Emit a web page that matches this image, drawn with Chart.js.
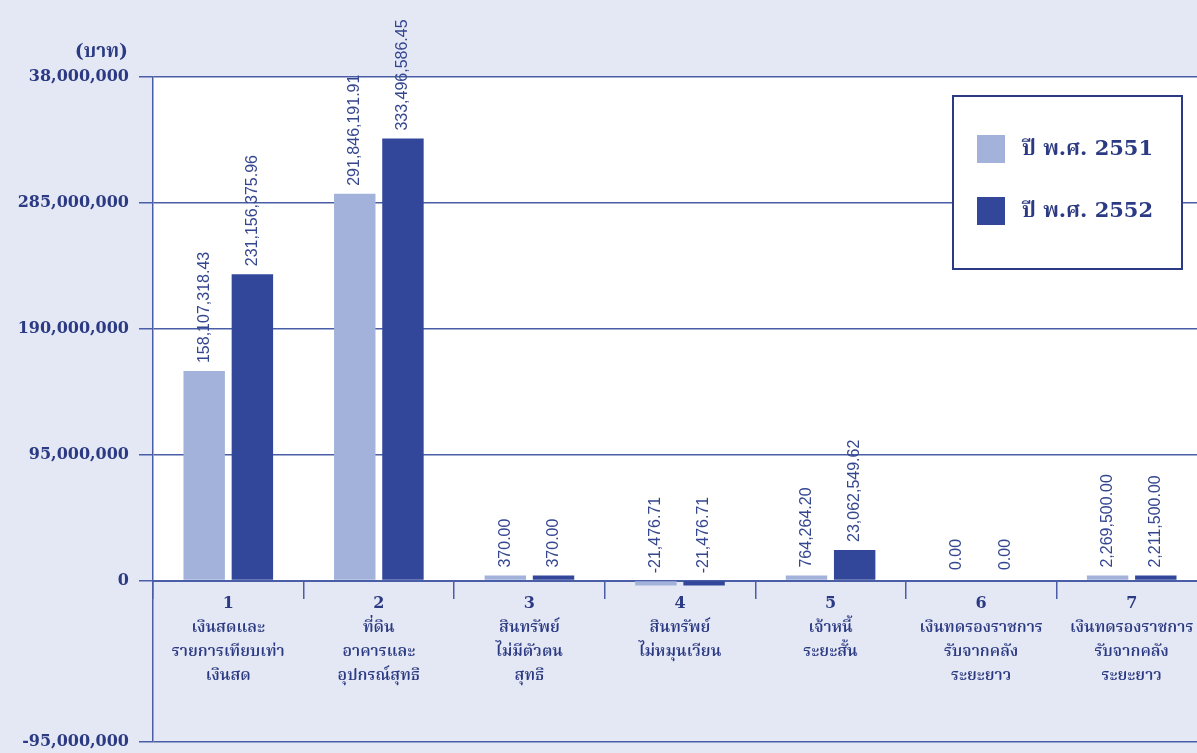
<!DOCTYPE html>
<html>
<head>
<meta charset="utf-8">
<script src="https://cdn.jsdelivr.net/npm/chart.js@4.4.1/dist/chart.umd.min.js"></script>
<style>
  html, body { margin: 0; padding: 0; overflow: hidden; background: #e4e8f5; }
  #wrap { width: 1197px; height: 753px; overflow: hidden; }
</style>
</head>
<body>
<div id="wrap"><canvas id="assetChart" width="1207" height="761"></canvas></div>
<script>
// categories (number + thai caption lines)
const categories = [
    ['1', 'เงินสดและ', 'รายการเทียบเท่า', 'เงินสด'],
    ['2', 'ที่ดิน', 'อาคารและ', 'อุปกรณ์สุทธิ'],
    ['3', 'สินทรัพย์', 'ไม่มีตัวตน', 'สุทธิ'],
    ['4', 'สินทรัพย์', 'ไม่หมุนเวียน'],
    ['5', 'เจ้าหนี้', 'ระยะสั้น'],
    ['6', 'เงินทดรองราชการ', 'รับจากคลัง', 'ระยะยาว'],
    ['7', 'เงินทดรองราชการ', 'รับจากคลัง', 'ระยะยาว']
];
const seriesNames = ['ปี พ.ศ. 2551', 'ปี พ.ศ. 2552'];
const values2551 = [158107318.43, 291846191.91, 370.00, -21476.71, 764264.20, 0.00, 2269500.00];
const values2552 = [231156375.96, 333496586.45, 370.00, -21476.71, 23062549.62, 0.00, 2211500.00];

// y axis ticks as printed on the original (bottom one is squeezed, top one misprinted)
const tickValues = [-121400000, 0, 95000000, 190000000, 285000000, 380000000];
const tickLabels = ['-95,000,000', '0', '95,000,000', '190,000,000', '285,000,000', '38,000,000'];
const unitLabel = '(บาท)';

const navy = '#2b3a82';
const lineBlue = '#4a5ea8';
const barColors = ['#a2b2db', '#33479a'];
const thaiFont = '"DejaVu Serif", "Noto Serif Thai", "Noto Sans Thai", serif';

function fmt(v) {
    return v.toLocaleString('en-US', { minimumFractionDigits: 2, maximumFractionDigits: 2 });
}

const paperBg = {
    id: 'paperBg',
    beforeDraw(chart) {
        const { ctx, chartArea, scales } = chart;
        const zeroY = scales.y.getPixelForValue(0);
        ctx.save();
        ctx.fillStyle = '#ffffff';
        ctx.fillRect(chartArea.left, chartArea.top, chartArea.right - chartArea.left, zeroY - chartArea.top);
        ctx.restore();
    }
};

const valueLabels = {
    id: 'valueLabels',
    afterDatasetsDraw(chart) {
        const ctx = chart.ctx;
        ctx.save();
        ctx.font = '16px "Liberation Sans", Arial, sans-serif';
        ctx.fillStyle = '#34468f';
        ctx.textAlign = 'left';
        ctx.textBaseline = 'middle';
        chart.data.datasets.forEach((ds, i) => {
            chart.getDatasetMeta(i).data.forEach((bar, j) => {
                const top = Math.min(bar.y, bar.base) - 8;
                ctx.save();
                ctx.translate(bar.x, top);
                ctx.rotate(-Math.PI / 2);
                ctx.fillText(fmt(ds.data[j]), 0, 0);
                ctx.restore();
            });
        });
        ctx.restore();
    }
};

const boxLegend = {
    id: 'boxLegend',
    afterDraw(chart) {
        const { ctx, chartArea } = chart;
        const left = chartArea.right - 254;
        const top = chartArea.top + 19;
        ctx.save();
        ctx.fillStyle = '#ffffff';
        ctx.fillRect(left, top, 229, 173);
        ctx.strokeStyle = navy;
        ctx.lineWidth = 2;
        ctx.strokeRect(left, top, 229, 173);
        ctx.font = 'bold 21px ' + thaiFont;
        ctx.textBaseline = 'middle';
        ctx.textAlign = 'left';
        chart.data.datasets.forEach((ds, i) => {
            const y = top + 53 + i * 62;
            ctx.fillStyle = ds.backgroundColor.base;
            ctx.fillRect(left + 24, y - 14, 28, 28);
            ctx.fillStyle = navy;
            ctx.fillText(ds.label, left + 69, y + 1);
        });
        // unit caption above y axis
        ctx.font = 'bold 19px ' + thaiFont;
        ctx.textAlign = 'right';
        ctx.fillText(unitLabel, chartArea.left - 25, 52);
        ctx.restore();
    }
};

function barFill(color) {
    const f = c => (c.raw === 0 ? 'rgba(0,0,0,0)' : color);
    f.base = color;
    return f;
}

new Chart(document.getElementById('assetChart'), {
    type: 'bar',
    data: {
        labels: categories,
        datasets: [
            { label: seriesNames[0], data: values2551, backgroundColor: barFill(barColors[0]) },
            { label: seriesNames[1], data: values2552, backgroundColor: barFill(barColors[1]) }
        ]
    },
    options: {
        responsive: false,
        animation: false,
        devicePixelRatio: 1,
        layout: { padding: { top: 77, right: 0, bottom: 3, left: 0 } },
        datasets: {
            bar: { categoryPercentage: 0.64, barPercentage: 0.86, minBarLength: 5 }
        },
        plugins: {
            legend: { display: false },
            tooltip: { enabled: false }
        },
        scales: {
            x: {
                position: { y: 0 },
                grid: { drawOnChartArea: false, color: lineBlue, lineWidth: 1.5, tickLength: 17 },
                border: { color: lineBlue, width: 2 },
                ticks: {
                    color: navy,
                    padding: -6,
                    maxRotation: 0,
                    autoSkip: false,
                    font: { family: thaiFont, size: 16, weight: '600', lineHeight: 1.5 }
                }
            },
            y: {
                min: tickValues[0],
                max: tickValues[tickValues.length - 1],
                afterBuildTicks: axis => { axis.ticks = tickValues.map(v => ({ value: v })); },
                afterFit: axis => { axis.width = 153; },
                grid: { color: lineBlue, lineWidth: 1.5, tickLength: 14 },
                border: { color: lineBlue, width: 1.5 },
                ticks: {
                    color: navy,
                    padding: 10,
                    font: { family: '"DejaVu Serif", serif', size: 16, weight: 'bold' },
                    callback: (v, i) => tickLabels[i]
                }
            }
        }
    },
    plugins: [paperBg, valueLabels, boxLegend]
});
</script>
</body>
</html>
